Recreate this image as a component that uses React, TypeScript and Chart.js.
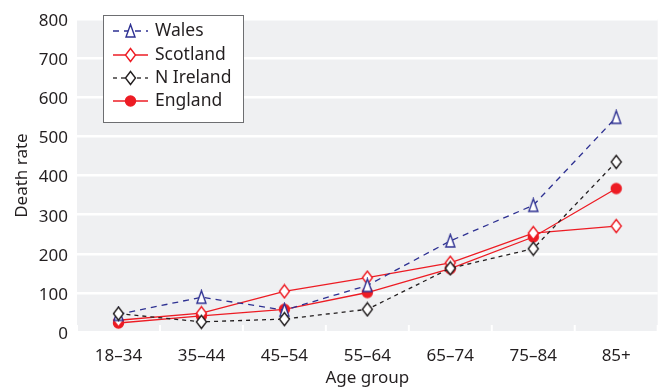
import React, { useEffect, useRef } from "react";
import { Chart, registerables } from "chart.js";

Chart.register(...registerables);

const categories = ["18–34", "35–44", "45–54", "55–64", "65–74", "75–84", "85+"];
const wales = [45, 89, 56, 119, 233, 324, 549];
const scotland = [30, 48, 104, 139, 177, 253, 271];
const nIreland = [47, 26, 33, 58, 163, 213, 435];
const england = [23, 41, 58, 101, 162, 243, 367];
const yTicks = [0, 100, 200, 300, 400, 500, 600, 700, 800];

const RED = "#ed1c24";
const BLUE = "#2e3192";
const BLACK = "#231f20";
const TEXT = "#231f20";
const FONT = "'Noto Sans', sans-serif";

function makeMarker(shape: string, stroke: string, fill: string): HTMLCanvasElement {
  const c = document.createElement("canvas");
  const w = 13;
  const h = 16;
  c.width = w;
  c.height = h;
  const ctx = c.getContext("2d")!;
  ctx.lineWidth = 1.4;
  ctx.strokeStyle = stroke;
  ctx.fillStyle = fill;
  ctx.beginPath();
  if (shape === "triangle") {
    ctx.moveTo(w / 2, 1.5);
    ctx.lineTo(w - 2, h - 2);
    ctx.lineTo(2, h - 2);
    ctx.closePath();
  } else if (shape === "diamond") {
    ctx.moveTo(w / 2, 1.5);
    ctx.lineTo(w - 1.5, h / 2);
    ctx.lineTo(w / 2, h - 1.5);
    ctx.lineTo(1.5, h / 2);
    ctx.closePath();
  } else {
    ctx.arc(w / 2, h / 2, 5, 0, Math.PI * 2);
  }
  ctx.fill();
  ctx.stroke();
  return c;
}

export default function App() {
  const ref = useRef<HTMLCanvasElement>(null);

  useEffect(() => {
    document.body.style.margin = "0";
    const triBlue = makeMarker("triangle", BLUE, "#ffffff");
    const diaRed = makeMarker("diamond", RED, "#ffffff");
    const diaBlack = makeMarker("diamond", BLACK, "#ffffff");
    const dotRed = makeMarker("circle", RED, RED);

    const legendItems = [
      { label: "Wales", color: BLUE, dash: [6, 5], marker: triBlue },
      { label: "Scotland", color: RED, dash: [], marker: diaRed },
      { label: "N Ireland", color: BLACK, dash: [4, 4], marker: diaBlack },
      { label: "England", color: RED, dash: [], marker: dotRed },
    ];

    const bgPlugin = {
      id: "bgPlugin",
      beforeDraw(chart: any) {
        const { ctx, chartArea } = chart;
        ctx.save();
        ctx.fillStyle = "#eff0f2";
        ctx.fillRect(chartArea.left, chartArea.top, chartArea.right - chartArea.left, chartArea.bottom - chartArea.top);
        ctx.restore();
      },
      beforeDatasetsDraw(chart: any) {
        const { ctx, chartArea } = chart;
        const n = categories.length;
        const step = (chartArea.right - chartArea.left) / n;
        ctx.save();
        ctx.strokeStyle = "#ffffff";
        ctx.lineWidth = 2;
        for (let i = 0; i <= n; i++) {
          const x = chartArea.left + step * i;
          ctx.beginPath();
          ctx.moveTo(x, chartArea.bottom - 7);
          ctx.lineTo(x, chartArea.bottom);
          ctx.stroke();
        }
        ctx.restore();
      },
      afterDraw(chart: any) {
        const { ctx } = chart;
        ctx.save();
        ctx.fillStyle = "#ffffff";
        ctx.strokeStyle = "#6d6e71";
        ctx.lineWidth = 1;
        ctx.fillRect(103.5, 15.5, 140, 107);
        ctx.strokeRect(103.5, 15.5, 140, 107);
        const rows = [31, 55, 78, 101];
        legendItems.forEach((it, i) => {
          const y = rows[i];
          ctx.strokeStyle = it.color;
          ctx.lineWidth = 1.3;
          ctx.setLineDash(it.dash);
          ctx.beginPath();
          ctx.moveTo(113, y);
          ctx.lineTo(148, y);
          ctx.stroke();
          ctx.setLineDash([]);
          const m = it.marker;
          ctx.drawImage(m, 130.5 - m.width / 2, y - m.height / 2);
          ctx.fillStyle = TEXT;
          ctx.font = `17.5px ${FONT}`;
          ctx.textBaseline = "middle";
          ctx.textAlign = "left";
          ctx.fillText(it.label, 155, y);
        });
        ctx.restore();
      },
    };

    const mk = (label: string, data: number[], color: string, dash: number[], marker: any) => ({
      label,
      data,
      borderColor: color,
      backgroundColor: color,
      borderWidth: 1.3,
      borderDash: dash,
      pointStyle: marker,
      pointRadius: 6,
      tension: 0,
    });

    const chart = new Chart(ref.current!, {
      type: "line",
      data: {
        labels: categories,
        datasets: [
          mk("N Ireland", nIreland, BLACK, [4, 4], diaBlack),
          mk("Wales", wales, BLUE, [6, 5], triBlue),
          mk("Scotland", scotland, RED, [], diaRed),
          mk("England", england, RED, [], dotRed),
        ],
      },
      options: {
        responsive: false,
        devicePixelRatio: 1,
        animation: false,
        layout: { padding: { top: 16, right: 3, left: 0, bottom: 0 } },
        plugins: {
          legend: { display: false },
          tooltip: { enabled: false },
        },
        scales: {
          x: {
            offset: true,
            grid: { display: false, drawTicks: false },
            border: { display: false },
            ticks: { color: TEXT, font: { family: FONT, size: 17 }, padding: 14, maxRotation: 0 },
            title: { display: true, text: "Age group", color: TEXT, font: { family: FONT, size: 17 }, padding: { top: 0, bottom: 2 } },
            afterFit(scale: any) {
              scale.height = 58;
            },
          },
          y: {
            min: 0,
            max: 800,
            afterBuildTicks(scale: any) {
              scale.ticks = yTicks.map((v) => ({ value: v }));
            },
            grid: { color: "#ffffff", lineWidth: 2.5, drawTicks: false },
            border: { display: false },
            ticks: { color: TEXT, font: { family: FONT, size: 17 }, padding: 9, labelOffset: 2 },
            title: { display: true, text: "Death rate", color: TEXT, font: { family: FONT, size: 17 }, padding: { top: 12, bottom: 0 } },
            afterFit(scale: any) {
              scale.width = 77;
            },
          },
        },
      },
      plugins: [bgPlugin],
    });
    return () => chart.destroy();
  }, []);

  return (
    <div style={{ width: 665, height: 390 }}>
      <canvas ref={ref} width={665} height={390} />
    </div>
  );
}
